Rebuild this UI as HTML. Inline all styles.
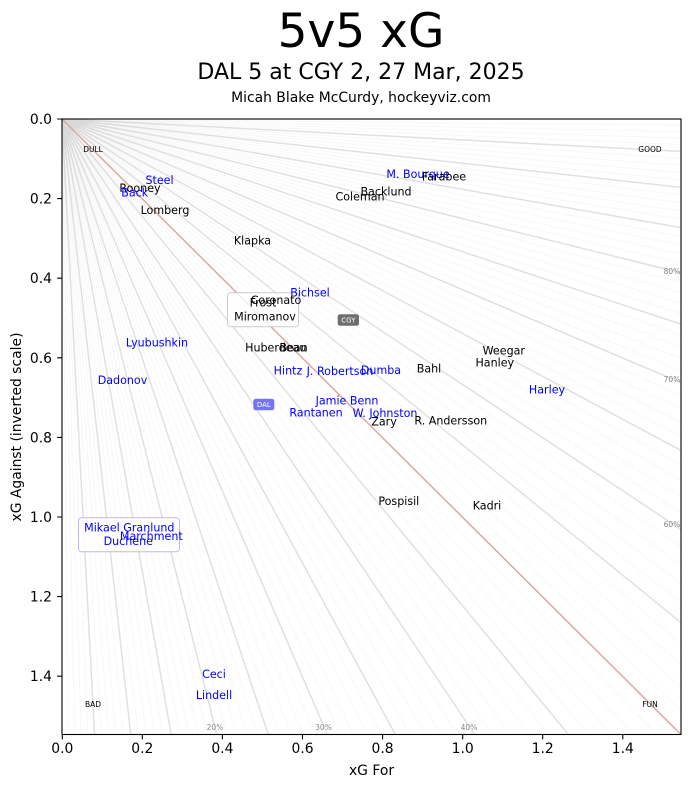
<!DOCTYPE html>
<html><head><meta charset="utf-8"><style>
html,body{margin:0;padding:0;background:#fff;width:692px;height:788px;overflow:hidden;}
svg{display:block;position:absolute;left:0;top:0;}
text{font-family:"DejaVu Sans","Liberation Sans",sans-serif;}
</style></head><body>
<svg width="692" height="788" viewBox="0 0 692 788" xmlns="http://www.w3.org/2000/svg">
<rect width="692" height="788" fill="#fff"/>
<text x="361" y="47" font-size="47" text-anchor="middle">5v5 xG</text>
<text x="361" y="79" font-size="22" text-anchor="middle">DAL 5 at CGY 2, 27 Mar, 2025</text>
<text x="361" y="102" font-size="13.9" text-anchor="middle">Micah Blake McCurdy, hockeyviz.com</text>
<g transform="translate(62,119) scale(619,615.5)" fill="none">
<g stroke="#000" stroke-opacity="0.03" stroke-width="1">
<path vector-effect="non-scaling-stroke" d="M0 0L0.0101 1M0 0L0.0204 1M0 0L0.0309 1M0 0L0.0417 1M0 0L0.0638 1M0 0L0.0753 1M0 0L0.087 1M0 0L0.0989 1M0 0L0.1236 1M0 0L0.1364 1M0 0L0.1494 1M0 0L0.1628 1M0 0L0.1905 1M0 0L0.2048 1M0 0L0.2195 1M0 0L0.2346 1M0 0L0.2658 1M0 0L0.2821 1M0 0L0.2987 1M0 0L0.3158 1M0 0L0.3514 1M0 0L0.3699 1M0 0L0.3889 1M0 0L0.4085 1M0 0L0.4493 1M0 0L0.4706 1M0 0L0.4925 1M0 0L0.5152 1M0 0L0.5625 1M0 0L0.5873 1M0 0L0.6129 1M0 0L0.6393 1M0 0L0.6949 1M0 0L0.7241 1M0 0L0.7544 1M0 0L0.7857 1M0 0L0.8519 1M0 0L0.8868 1M0 0L0.9231 1M0 0L0.9608 1M0 0L1 0.0101M0 0L1 0.0204M0 0L1 0.0309M0 0L1 0.0417M0 0L1 0.0638M0 0L1 0.0753M0 0L1 0.087M0 0L1 0.0989M0 0L1 0.1236M0 0L1 0.1364M0 0L1 0.1494M0 0L1 0.1628M0 0L1 0.1905M0 0L1 0.2048M0 0L1 0.2195M0 0L1 0.2346M0 0L1 0.2658M0 0L1 0.2821M0 0L1 0.2987M0 0L1 0.3158M0 0L1 0.3514M0 0L1 0.3699M0 0L1 0.3889M0 0L1 0.4085M0 0L1 0.4493M0 0L1 0.4706M0 0L1 0.4925M0 0L1 0.5152M0 0L1 0.5625M0 0L1 0.5873M0 0L1 0.6129M0 0L1 0.6393M0 0L1 0.6949M0 0L1 0.7241M0 0L1 0.7544M0 0L1 0.7857M0 0L1 0.8519M0 0L1 0.8868M0 0L1 0.9231M0 0L1 0.9608"/>
</g>
<g stroke="#000" stroke-opacity="0.12" stroke-width="1.5">
<path vector-effect="non-scaling-stroke" d="M0 0L0.0526 1M0 0L0.1111 1M0 0L0.1765 1M0 0L0.25 1M0 0L0.3333 1M0 0L0.4286 1M0 0L0.5385 1M0 0L0.6667 1M0 0L0.8182 1M0 0L1 0.0526M0 0L1 0.1111M0 0L1 0.1765M0 0L1 0.25M0 0L1 0.3333M0 0L1 0.4286M0 0L1 0.5385M0 0L1 0.6667M0 0L1 0.8182"/>
</g>
<path vector-effect="non-scaling-stroke" d="M0 0L1 1" stroke="#dca6a6" stroke-width="1.5"/>
</g>
<g font-size="7.5" fill="#000" text-anchor="middle">
<text x="93" y="152">DULL</text>
<text x="650" y="152">GOOD</text>
<text x="93" y="707">BAD</text>
<text x="650" y="707">FUN</text>
</g>
<g font-size="7.5" fill="#888" text-anchor="middle">
<text x="215" y="730">20%</text>
<text x="323.5" y="730">30%</text>
<text x="469" y="730">40%</text>
<text x="672" y="274">80%</text>
<text x="672" y="382">70%</text>
<text x="672" y="527">60%</text>
</g>
<rect x="227.5" y="292.7" width="71" height="34" rx="3" fill="#fff" fill-opacity="0.8" stroke="#cccccc" stroke-width="1"/>
<rect x="78.5" y="517.7" width="101" height="34" rx="3" fill="#fff" fill-opacity="0.8" stroke="#b8b8ff" stroke-width="1"/>
<rect x="337.7" y="314.3" width="21.3" height="11.5" rx="2.5" fill="#6e6e6e"/>
<text x="348.4" y="322.6" font-size="7" fill="#fff" text-anchor="middle">CGY</text>
<rect x="253.3" y="398.8" width="21" height="11.5" rx="2.5" fill="#7474f4"/>
<text x="263.8" y="407.1" font-size="7" fill="#fff" text-anchor="middle">DAL</text>
<g font-size="11.1" text-anchor="middle">
<text x="159.5" y="184" fill="#0000ff">Steel</text>
<text x="140" y="192" fill="#000">Rooney</text>
<text x="134.7" y="196.7" fill="#0000ff">Back</text>
<text x="165" y="214" fill="#000">Lomberg</text>
<text x="252.5" y="244.7" fill="#000">Klapka</text>
<text x="418" y="178" fill="#0000ff">M. Bourque</text>
<text x="444" y="180.7" fill="#000">Farabee</text>
<text x="386" y="195.7" fill="#000">Backlund</text>
<text x="360" y="200.7" fill="#000">Coleman</text>
<text x="310" y="296.7" fill="#0000ff">Bichsel</text>
<text x="276" y="304" fill="#000">Coronato</text>
<text x="263" y="306.7" fill="#000">Frost</text>
<text x="265" y="320.7" fill="#000">Miromanov</text>
<text x="157" y="346.7" fill="#0000ff">Lyubushkin</text>
<text x="122.5" y="384" fill="#0000ff">Dadonov</text>
<text x="275.8" y="351.7" fill="#000">Huberdeau</text>
<text x="293.5" y="351.7" fill="#000">Bean</text>
<text x="288" y="374.7" fill="#0000ff">Hintz</text>
<text x="340" y="375" fill="#0000ff">J. Robertson</text>
<text x="381" y="374" fill="#0000ff">Dumba</text>
<text x="429" y="372.3" fill="#000">Bahl</text>
<text x="503.8" y="354.7" fill="#000">Weegar</text>
<text x="494.8" y="366.3" fill="#000">Hanley</text>
<text x="547" y="393.3" fill="#0000ff">Harley</text>
<text x="347" y="404.7" fill="#0000ff">Jamie Benn</text>
<text x="316" y="416.7" fill="#0000ff">Rantanen</text>
<text x="385" y="417" fill="#0000ff">W. Johnston</text>
<text x="384" y="425.7" fill="#000">Zary</text>
<text x="450.8" y="424.7" fill="#000">R. Andersson</text>
<text x="398.8" y="505" fill="#000">Pospisil</text>
<text x="487" y="509.3" fill="#000">Kadri</text>
<text x="129.3" y="531.7" fill="#0000ff">Mikael Granlund</text>
<text x="151.3" y="540" fill="#0000ff">Marchment</text>
<text x="128.3" y="545" fill="#0000ff">Duchene</text>
<text x="214" y="678" fill="#0000ff">Ceci</text>
<text x="214" y="699" fill="#0000ff">Lindell</text>
</g>
<rect x="62" y="119" width="619" height="615.5" fill="none" stroke="#000" stroke-width="1.1"/>
<g stroke="#000" stroke-width="1.1">
<path d="M62.3 734.5V739.4M142.3 734.5V739.4M222.4 734.5V739.4M302.5 734.5V739.4M382.6 734.5V739.4M462.7 734.5V739.4M542.7 734.5V739.4M622.8 734.5V739.4"/>
<path d="M62 119H57.1M62 198.6H57.1M62 278.2H57.1M62 357.8H57.1M62 437.4H57.1M62 517H57.1M62 596.6H57.1M62 676.2H57.1"/>
</g>
<g font-size="13.9" fill="#000" text-anchor="middle">
<text x="62.3" y="753">0.0</text>
<text x="142.3" y="753">0.2</text>
<text x="222.4" y="753">0.4</text>
<text x="302.5" y="753">0.6</text>
<text x="382.6" y="753">0.8</text>
<text x="462.7" y="753">1.0</text>
<text x="542.7" y="753">1.2</text>
<text x="622.8" y="753">1.4</text>
</g>
<g font-size="13.9" fill="#000" text-anchor="end">
<text x="52" y="124">0.0</text>
<text x="52" y="203.6">0.2</text>
<text x="52" y="283.2">0.4</text>
<text x="52" y="362.8">0.6</text>
<text x="52" y="442.4">0.8</text>
<text x="52" y="522">1.0</text>
<text x="52" y="601.6">1.2</text>
<text x="52" y="681.2">1.4</text>
</g>
<text x="371.5" y="775" font-size="13.9" text-anchor="middle">xG For</text>
<text transform="translate(21,427) rotate(-90)" font-size="13.9" text-anchor="middle">xG Against (inverted scale)</text>
</svg>
</body></html>
